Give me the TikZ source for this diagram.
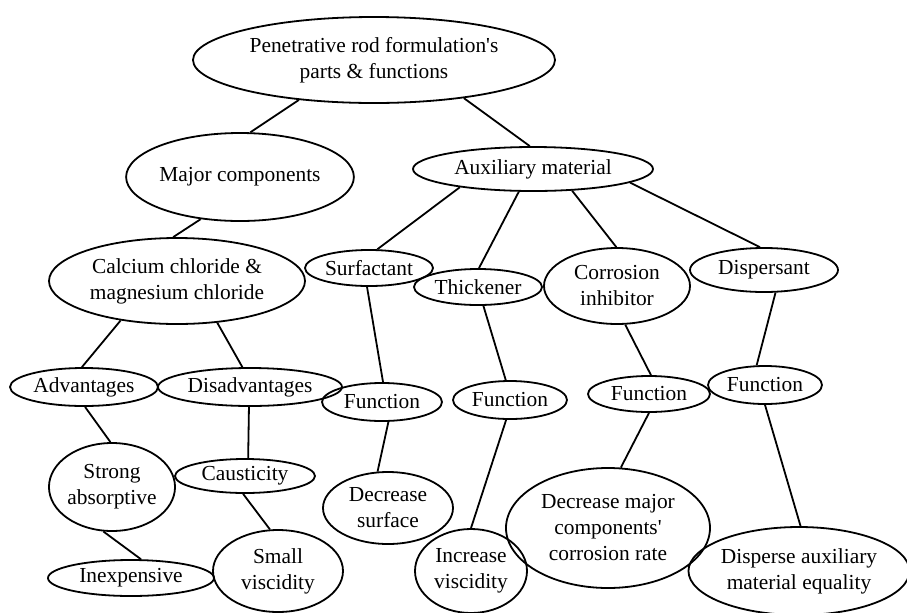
\documentclass[tikz,border=0pt]{standalone}
\usepackage{fontspec}
\setmainfont{Liberation Serif}
\usetikzlibrary{shapes.geometric}
\tikzset{
  bub/.style 2 args={ellipse, draw, line width=0.9pt, minimum width=#1pt, minimum height=#2pt,
    inner sep=0pt, align=center, font=\fontsize{10.7}{13}\selectfont},
  link/.style={line width=0.9pt}
}
\begin{document}
\begin{tikzpicture}[x=0.5pt,y=-0.5pt]
\useasboundingbox (0,0) rectangle (907,612);
\clip (0,0) rectangle (907,612);
\node[bub={181}{43}] (top) at (374,60) {Penetrative rod formulation\textquotesingle s\\parts \& functions};
\node[bub={102}{44}] (major) at (240,177) {Major components};
\node[bub={120}{22}] (aux) at (533,169) {Auxiliary material};
\node[bub={128}{43}] (calc) at (177,281) {Calcium chloride \&\\magnesium chloride};
\node[bub={64}{18}] (surf) at (369,268) {Surfactant};
\node[bub={64}{18}] (thick) at (478,287) {Thickener};
\node[bub={73}{38}] (corr) at (617,286) {Corrosion\\inhibitor};
\node[bub={74}{22}] (disp) at (764,270) {Dispersant};
\node[bub={74}{19}] (adv) at (84,387) {Advantages};
\node[bub={92}{19}] (disadv) at (250,387) {Disadvantages};
\node[bub={60}{19}] (fsurf) at (382,402) {Function};
\node[bub={63}{44}] (strong) at (112,487) {Strong\\absorptive};
\node[bub={70}{17}] (caus) at (245,476) {Causticity};
\node[bub={65}{36}] (decsurf) at (388,508) {Decrease\\surface};
\node[bub={83}{18}] (inexp) at (131,578) {Inexpensive};
\node[bub={65}{41}] (small) at (278,571) {Small\\viscidity};
\node[bub={57}{19}] (fthick) at (510,400) {Function};
\node[bub={56}{42}] (incr) at (471,571) {Increase\\viscidity};
\node[bub={61}{18}] (fcorr) at (649,394) {Function};
\node[bub={57}{19}] (fdisp) at (765,385) {Function};
\node[bub={102}{60}] (decmaj) at (608,528) {Decrease major\\components\textquotesingle\\corrosion rate};
\node[bub={108}{44}] (dispaux) at (799,571) {Disperse auxiliary\\material equality};
\draw[link] (top.-152.5) -- (major.77);
\draw[link] (top.-23.6) -- (aux.98);
\draw[link] (major.-133) -- (calc.95);
\draw[link] (aux.-166) -- (surf.66);
\draw[link] (aux.-122) -- (thick.87);
\draw[link] (aux.-29) -- (corr.91.5);
\draw[link] (aux.-8) -- (disp.100);
\draw[link] (calc.-145) -- (adv.96);
\draw[link] (calc.-46) -- (disadv.111);
\draw[link] (surf.-96) -- (fsurf.87);
\draw[link] (thick.-74.5) -- (fthick.102.5);
\draw[link] (corr.-78) -- (fcorr.84);
\draw[link] (disp.-63) -- (fdisp.113);
\draw[link] (adv.-87) -- (strong.92.6);
\draw[link] (disadv.-93) -- (caus.80);
\draw[link] (fsurf.-72.5) -- (decsurf.106.6);
\draw[link] (strong.-101.6) -- (inexp.62);
\draw[link] (caus.-96) -- (small.101);
\draw[link] (fthick.-101) -- (incr.90);
\draw[link] (fcorr.-90) -- (decmaj.78.5);
\draw[link] (fdisp.-90) -- (dispaux.88.7);
\end{tikzpicture}
\end{document}
